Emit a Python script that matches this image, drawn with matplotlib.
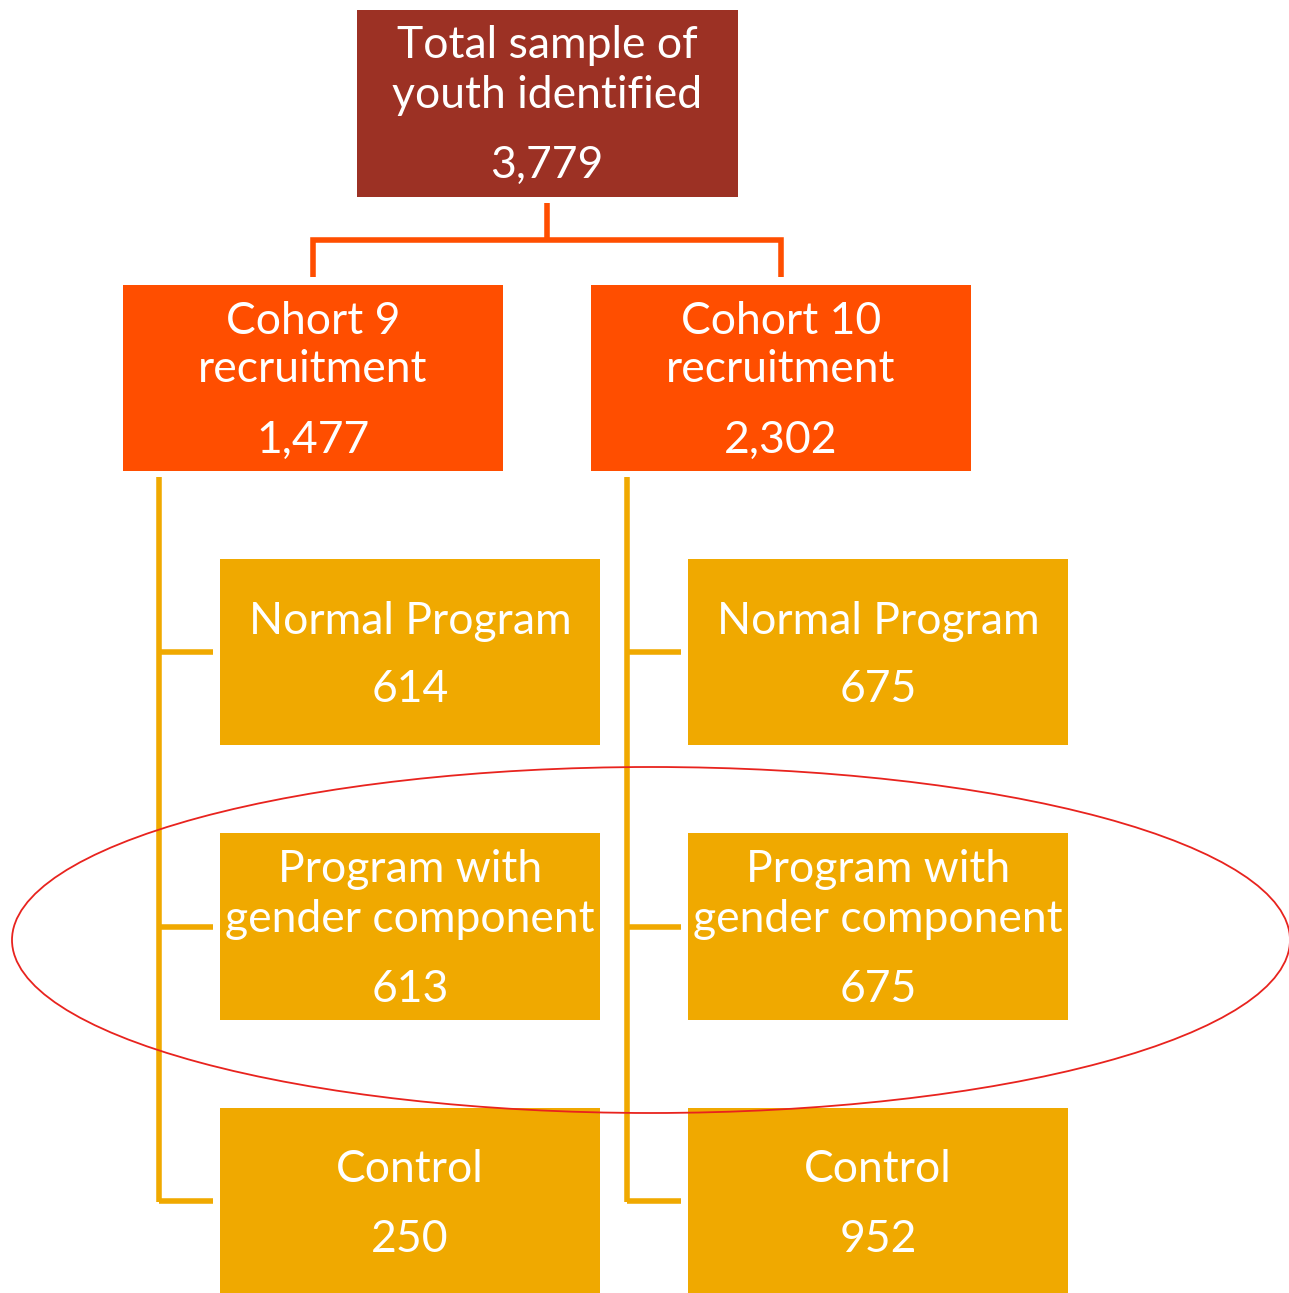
import matplotlib
matplotlib.use("Agg")
import matplotlib.pyplot as plt
from matplotlib.patches import Rectangle, Ellipse

W, H = 1289, 1293

# Data
top_label = "Total sample of\nyouth identified"
top_value = 3779
cohort_labels = ["Cohort 9\nrecruitment", "Cohort 10\nrecruitment"]
cohort_values = [1477, 2302]
arm_labels = ["Normal Program", "Program with\ngender component", "Control"]
arm_values = [[614, 613, 250], [675, 675, 952]]

DARK = "#9C3124"
ORANGE = "#FF4E00"
GOLD = "#F0A900"
FONT = "Lato"

fig = plt.figure(figsize=(W / 100, H / 100), dpi=100)
ax = fig.add_axes([0, 0, 1, 1])
ax.set_xlim(0, W)
ax.set_ylim(H, 0)
ax.axis("off")

def box(x0, y0, x1, y1, color):
    ax.add_patch(Rectangle((x0, y0), x1 - x0, y1 - y0, facecolor=color, edgecolor="none", zorder=2))

def txt(x, y, s, size=32):
    ax.text(x, y + 3, s, ha="center", va="center", color="white", fontsize=size, family=FONT, zorder=5)

def fmt(v):
    return f"{v:,}"

# Top box
box(357, 10, 738, 197, DARK)
txt(547, 43, top_label.split("\n")[0])
txt(547, 92, top_label.split("\n")[1])
txt(547, 162, fmt(top_value))

# connectors top -> cohorts
lw = 4
ax.plot([547, 547], [203, 240], color=ORANGE, lw=lw, zorder=1, solid_capstyle="butt")
ax.plot([313, 313, 781, 781], [277, 240, 240, 277], color=ORANGE, lw=lw, zorder=1,
        solid_joinstyle="miter", solid_capstyle="butt")

cohort_x = [(123, 503), (591, 971)]
arm_x = [(220, 600), (688, 1068)]
spine_x = [159, 627]
row_y = [(559, 745), (833, 1020), (1108, 1293)]

for ci in range(2):
    x0, x1 = cohort_x[ci]
    box(x0, 285, x1, 471, ORANGE)
    cx = (x0 + x1) / 2
    l1, l2 = cohort_labels[ci].split("\n")
    txt(cx, 318, l1)
    txt(cx, 367, l2)
    txt(cx, 437, fmt(cohort_values[ci]))

    sx = spine_x[ci]
    ax.plot([sx, sx], [477, 1202], color=GOLD, lw=lw, zorder=1, solid_capstyle="butt")
    ax0, ax1 = arm_x[ci]
    acx = (ax0 + ax1) / 2
    for ri in range(3):
        y0, y1 = row_y[ri]
        box(ax0, y0, ax1, y1, GOLD)
        ym = (y0 + y1) / 2
        ax.plot([sx, ax0 - 7], [ym, ym], color=GOLD, lw=lw, zorder=1, solid_capstyle="butt")
        lines = arm_labels[ri].split("\n")
        if len(lines) == 1:
            txt(acx, y0 + 59, lines[0])
            txt(acx, y0 + 128, str(arm_values[ci][ri]))
        else:
            txt(acx, y0 + 33, lines[0])
            txt(acx, y0 + 83, lines[1])
            txt(acx, y0 + 153, str(arm_values[ci][ri]))

# highlight ellipse
ax.add_patch(Ellipse((651, 940), 1278, 346, facecolor="none", edgecolor="#E8231E", lw=1.3, zorder=6))

fig.savefig("out.png", dpi=100)
